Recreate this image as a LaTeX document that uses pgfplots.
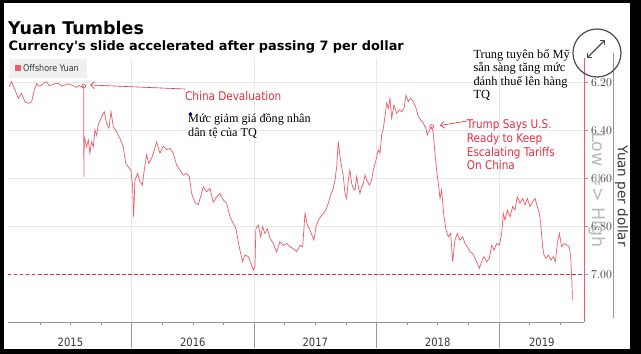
\documentclass[border=0pt]{standalone}
\usepackage{pgfplots}
\pgfplotsset{compat=1.18}
\usepackage{pgfplotstable}
\usepackage{fontspec}
\setmainfont{DejaVu Sans}
\newfontfamily\cond{DejaVu Sans}[FakeStretch=0.87]
\newfontfamily\vnserif{Liberation Serif}
\usetikzlibrary{arrows.meta}
\definecolor{linered}{RGB}{240,90,100}
\definecolor{txtred}{RGB}{230,45,65}
\definecolor{gridgray}{RGB}{232,232,232}
\definecolor{axgray}{RGB}{150,150,150}
\definecolor{lblgray}{RGB}{55,55,55}
\definecolor{legbg}{RGB}{240,240,240}

% x = decimal year, y = yuan per dollar
\pgfplotstableread{
x y
2015.000 6.217
2015.019 6.196
2015.047 6.230
2015.074 6.265
2015.101 6.245
2015.128 6.280
2015.156 6.286
2015.183 6.280
2015.205 6.230
2015.224 6.203
2015.240 6.215
2015.264 6.210
2015.285 6.200
2015.305 6.196
2015.325 6.212
2015.346 6.210
2015.370 6.205
2015.401 6.203
2015.430 6.215
2015.455 6.210
2015.480 6.205
2015.510 6.210
2015.530 6.215
2015.550 6.220
2015.570 6.212
2015.591 6.217
2015.608 6.214
2015.610 6.593
2015.613 6.426
2015.632 6.468
2015.646 6.440
2015.659 6.495
2015.673 6.447
2015.687 6.468
2015.700 6.398
2015.714 6.420
2015.727 6.377
2015.755 6.342
2015.776 6.321
2015.795 6.370
2015.815 6.390
2015.831 6.321
2015.850 6.384
2015.877 6.405
2015.904 6.433
2015.932 6.468
2015.951 6.537
2015.972 6.551
2015.994 6.565
2016.008 6.635
2016.016 6.760
2016.027 6.607
2016.049 6.579
2016.068 6.614
2016.087 6.628
2016.103 6.565
2016.122 6.502
2016.141 6.537
2016.163 6.516
2016.177 6.495
2016.204 6.447
2016.231 6.495
2016.258 6.465
2016.286 6.480
2016.313 6.475
2016.340 6.495
2016.367 6.544
2016.395 6.565
2016.422 6.586
2016.449 6.579
2016.471 6.593
2016.490 6.663
2016.517 6.700
2016.544 6.710
2016.563 6.677
2016.585 6.635
2016.612 6.656
2016.640 6.642
2016.667 6.700
2016.694 6.677
2016.721 6.663
2016.749 6.690
2016.776 6.704
2016.803 6.760
2016.830 6.788
2016.852 6.810
2016.871 6.865
2016.885 6.900
2016.906 6.948
2016.926 6.920
2016.953 6.927
2016.975 6.955
2016.994 6.983
2017.007 6.970
2017.015 6.810
2017.034 6.795
2017.054 6.844
2017.070 6.802
2017.089 6.830
2017.108 6.810
2017.130 6.850
2017.157 6.872
2017.184 6.907
2017.211 6.865
2017.239 6.879
2017.266 6.872
2017.293 6.886
2017.320 6.893
2017.348 6.907
2017.375 6.879
2017.397 6.886
2017.416 6.746
2017.435 6.795
2017.457 6.816
2017.478 6.844
2017.489 6.858
2017.506 6.802
2017.525 6.774
2017.544 6.760
2017.566 6.746
2017.587 6.732
2017.606 6.704
2017.625 6.670
2017.647 6.642
2017.661 6.607
2017.675 6.551
2017.688 6.447
2017.702 6.510
2017.715 6.551
2017.729 6.593
2017.743 6.663
2017.756 6.684
2017.770 6.607
2017.783 6.565
2017.797 6.621
2017.811 6.642
2017.824 6.649
2017.838 6.593
2017.852 6.635
2017.865 6.663
2017.879 6.635
2017.892 6.621
2017.906 6.586
2017.920 6.607
2017.941 6.628
2017.960 6.607
2017.974 6.565
2017.996 6.523
2018.015 6.481
2018.029 6.495
2018.042 6.419
2018.056 6.391
2018.069 6.342
2018.083 6.286
2018.097 6.307
2018.110 6.265
2018.124 6.349
2018.143 6.293
2018.165 6.328
2018.186 6.314
2018.206 6.321
2018.225 6.307
2018.241 6.252
2018.260 6.279
2018.279 6.265
2018.301 6.279
2018.323 6.307
2018.342 6.342
2018.361 6.356
2018.383 6.370
2018.404 6.391
2018.415 6.419
2018.432 6.398
2018.451 6.385
2018.464 6.412
2018.478 6.495
2018.491 6.565
2018.505 6.621
2018.519 6.684
2018.532 6.649
2018.551 6.760
2018.568 6.816
2018.587 6.844
2018.606 6.830
2018.622 6.948
2018.641 6.858
2018.660 6.830
2018.682 6.858
2018.704 6.844
2018.723 6.872
2018.742 6.886
2018.764 6.907
2018.786 6.914
2018.805 6.934
2018.824 6.955
2018.840 6.976
2018.859 6.948
2018.878 6.927
2018.900 6.948
2018.922 6.934
2018.941 6.879
2018.960 6.900
2018.982 6.872
2019.004 6.879
2019.023 6.830
2019.036 6.746
2019.050 6.774
2019.069 6.732
2019.091 6.760
2019.112 6.718
2019.131 6.732
2019.150 6.677
2019.172 6.704
2019.194 6.684
2019.213 6.711
2019.232 6.684
2019.254 6.718
2019.276 6.697
2019.295 6.684
2019.314 6.718
2019.330 6.746
2019.341 6.788
2019.357 6.886
2019.368 6.920
2019.385 6.934
2019.404 6.920
2019.423 6.941
2019.445 6.927
2019.461 6.948
2019.477 6.872
2019.494 6.830
2019.513 6.886
2019.532 6.872
2019.554 6.879
2019.575 6.886
2019.586 6.927
2019.597 7.039
2019.600 7.109
}\cnh

\begin{document}
\begin{tikzpicture}
\begin{scope}[x=1pt,y=1pt]
\path[use as bounding box] (0,0) rectangle (641,354);
\fill[black] (0,0) rectangle (641,354);
\fill[white] (4,5) rectangle (630,351);
\node[anchor=base west, inner sep=0, font=\bfseries\fontsize{17.5}{20}\selectfont] at (8,319) {Yuan Tumbles};
\node[anchor=base west, inner sep=0, font=\bfseries\fontsize{12.9}{15}\selectfont] at (8.5,303.3) {Currency\XeTeXglyph\XeTeXcharglyph"0027\relax s slide accelerated after passing 7 per dollar};
\end{scope}

\begin{axis}[
  at={(8pt,32pt)}, anchor=south west,
  scale only axis, width=576pt, height=264pt,
  xmin=-0.01, xmax=4.695,
  ymin=6.097, ymax=7.20, y dir=reverse,
  axis x line*=bottom, axis y line*=right,
  x axis line style={axgray, line width=0.9pt, -},
  y axis line style={linered, line width=0.8pt, -},
  xtick={0.5,1.5,2.5,3.5,4.35},
  xticklabels={2015,2016,2017,2018,2019},
  xtick style={draw=none},
  xticklabel style={font=\cond\fontsize{11.5}{13}\selectfont, text=lblgray, yshift=-9pt},
  ytick={6.2,6.4,6.6,6.8,7.0},
  yticklabel style={font=\cond\fontsize{11.5}{13}\selectfont, text=lblgray, anchor=west,
     /pgf/number format/.cd, fixed, fixed zerofill, precision=2},
  ytick style={axgray, line width=0.6pt},
  tick align=outside, major tick length=3.5pt,
  ymajorgrids, grid style={gridgray, line width=0.6pt},
  clip=false,
]
\pgfplotsinvokeforeach{1,2,3,4}{
  \draw[gridgray, line width=0.6pt] (axis cs:#1,6.097) -- (axis cs:#1,7.2);
  \draw[axgray, line width=0.6pt] (axis cs:#1,7.2) -- ++(0pt,-26pt);
}
\pgfplotsinvokeforeach{0.25,0.5,0.75,1.25,1.5,1.75,2.25,2.5,2.75,3.25,3.5,3.75,4.25,4.5}{
  \draw[axgray, line width=0.6pt] (axis cs:#1,7.2) -- ++(0pt,-3pt);
}
\addplot[txtred, line width=0.9pt, dash pattern=on 3.5pt off 2.5pt] coordinates {(-0.01,7.0) (4.695,7.0)};
\addplot[linered, line width=0.7pt] table[x expr=\thisrow{x}-2015, y=y] {\cnh};
\addplot[only marks, mark=o, mark size=2pt, linered, mark options={line width=0.7pt}] coordinates {(0.608,6.214) (3.451,6.383)};
\addplot[only marks, mark=*, mark size=1.6pt, blue!70!black] coordinates {(1.480,6.331)};
\end{axis}

\begin{scope}[x=1pt,y=1pt]
% legend
\fill[legbg] (9,276) rectangle (87,295);
\fill[linered] (15,283) rectangle (21,289);
\node[anchor=base west, inner sep=0, text=lblgray, font=\cond\fontsize{9.2}{11}\selectfont] at (23,282.5) {Offshore Yuan};

% annotations
\draw[txtred, line width=0.6pt, -{Straight Barb[length=4pt,width=7pt]}] (185,265) -- (90,269);
\node[anchor=base west, inner sep=0, text=txtred, font=\cond\fontsize{12}{14}\selectfont] at (185,253.3) {China Devaluation};
\node[anchor=base west, inner sep=0, font=\vnserif\fontsize{12.2}{14}\selectfont] at (188,231.3) {Mức giảm giá đồng nhân};
\node[anchor=base west, inner sep=0, font=\vnserif\fontsize{12.2}{14}\selectfont] at (188,217.3) {dân tệ của TQ};

\draw[txtred, line width=0.6pt, -{Straight Barb[length=4pt,width=7pt]}] (467,233) -- (440,228.5);
\node[anchor=base west, inner sep=0, text=txtred, font=\cond\fontsize{12}{14}\selectfont] at (466.7,225.7) {Trump Says U.S.};
\node[anchor=base west, inner sep=0, text=txtred, font=\cond\fontsize{12}{14}\selectfont] at (466.7,211.7) {Ready to Keep};
\node[anchor=base west, inner sep=0, text=txtred, font=\cond\fontsize{12}{14}\selectfont] at (466.7,197.3) {Escalating Tariffs};
\node[anchor=base west, inner sep=0, text=txtred, font=\cond\fontsize{12}{14}\selectfont] at (466.7,184) {On China};

\node[anchor=base west, inner sep=0, font=\vnserif\fontsize{12.4}{14}\selectfont] at (473.3,295.7) {Trung tuyên bố Mỹ};
\node[anchor=base west, inner sep=0, font=\vnserif\fontsize{12.4}{14}\selectfont] at (473.3,282) {sẵn sàng tăng mức};
\node[anchor=base west, inner sep=0, font=\vnserif\fontsize{12.4}{14}\selectfont] at (473.3,268.3) {đánh thuế lên hàng};
\node[anchor=base west, inner sep=0, font=\vnserif\fontsize{12.4}{14}\selectfont] at (473.3,255.7) {TQ};

% right side
\node[rotate=-90, text=gray!55, font=\fontsize{17.5}{20}\selectfont] at (597,164) {Low => High};
\node[rotate=-90, text=lblgray, font=\fontsize{13.5}{16}\selectfont] at (621.7,158) {Yuan per dollar};
\draw[axgray, line width=0.8pt] (613.3,36) -- (613.3,301);

% expand icon
\draw[gray!60!black, line width=1.2pt] (597,301) circle (24);
\draw[gray!60!black, line width=1.1pt, {Straight Barb[length=3pt,width=6pt]}-{Straight Barb[length=3pt,width=6pt]}] (587,296) -- (605,314);
\end{scope}
\end{tikzpicture}
\end{document}
